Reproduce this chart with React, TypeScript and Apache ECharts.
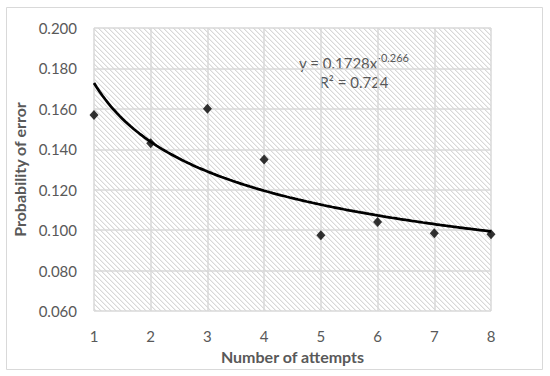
import React, { useEffect, useRef } from "react";
import * as echarts from "echarts";

const attempts = [1, 2, 3, 4, 5, 6, 7, 8];
const errorProb = [0.157, 0.143, 0.16, 0.135, 0.0975, 0.104, 0.0985, 0.098];
const trendCoef = 0.1728;
const trendExp = -0.266;
const rSquared = 0.724;
const xTitle = "Number of attempts";
const yTitle = "Probability of error";

const FONT = "Lato, 'Open Sans', sans-serif";
const TXT = "#595959";
const GRIDC = "#d9d9d9";

function makeHatch(): string {
  const n = 5;
  const c = document.createElement("canvas");
  c.width = n;
  c.height = n;
  const ctx = c.getContext("2d")!;
  ctx.fillStyle = "#ffffff";
  ctx.fillRect(0, 0, n, n);
  for (let i = 0; i < n; i++) {
    ctx.fillStyle = "#d8d8d8";
    ctx.fillRect(i, i, 1, 1);
    ctx.fillStyle = "#efefef";
    ctx.fillRect((i + 1) % n, i, 1, 1);
  }
  return c.toDataURL();
}

export default function App() {
  const ref = useRef<HTMLDivElement>(null);
  useEffect(() => {
    if (!ref.current) return;
    const chart = echarts.init(ref.current, null, { renderer: "svg" });
    const xMin = attempts[0];
    const xMax = attempts[attempts.length - 1];
    const trend: number[][] = [];
    for (let i = 0; i <= 140; i++) {
      const x = xMin + ((xMax - xMin) * i) / 140;
      trend.push([x, trendCoef * Math.pow(x, trendExp)]);
    }
    const hatch = makeHatch();
    chart.setOption({
      animation: false,
      backgroundColor: "#ffffff",
      grid: {
        left: 94,
        right: 59,
        top: 28,
        bottom: 65,
        show: true,
        borderWidth: 0,
        backgroundColor: { image: hatch, repeat: "repeat", imageWidth: 5, imageHeight: 5 },
        outerBoundsMode: "none",
      },
      xAxis: {
        type: "value",
        min: 1,
        max: 8,
        interval: 1,
        name: xTitle,
        nameLocation: "middle",
        nameGap: 37,
        nameTextStyle: { color: TXT, fontFamily: FONT, fontSize: 16, fontWeight: "bold" },
        axisLine: { show: false },
        axisTick: { show: false },
        axisLabel: { color: TXT, fontFamily: FONT, fontSize: 15, margin: 17 },
        splitLine: { show: true, lineStyle: { color: GRIDC, width: 1.5 } },
      },
      yAxis: {
        type: "value",
        min: 0.06,
        max: 0.2,
        interval: 0.02,
        name: yTitle,
        nameLocation: "middle",
        nameGap: 63,
        nameTextStyle: { color: TXT, fontFamily: FONT, fontSize: 16, fontWeight: "bold" },
        axisLine: { show: false },
        axisTick: { show: false },
        axisLabel: {
          color: TXT,
          fontFamily: FONT,
          fontSize: 15,
          margin: 17,
          formatter: (v: number) => v.toFixed(3),
        },
        splitLine: { show: true, lineStyle: { color: GRIDC, width: 1.5 } },
      },
      series: [
        {
          type: "scatter",
          data: attempts.map((x, i) => [x, errorProb[i]]),
          symbol: "diamond",
          symbolSize: [9, 10],
          itemStyle: { color: "#000000" },
          z: 3,
        },
        {
          type: "line",
          data: trend,
          showSymbol: false,
          symbol: "none",
          lineStyle: { color: "#000000", width: 2.75 },
          z: 4,
        },
      ],
      graphic: [
        {
          type: "rect",
          shape: { x: 6.5, y: 7.5, width: 536, height: 362 },
          style: { fill: "none", stroke: GRIDC, lineWidth: 1 },
          silent: true,
        },
        {
          type: "text",
          x: 299,
          y: 63,
          style: {
            text: `y = ${trendCoef}x`,
            font: `15px ${FONT}`,
            fill: TXT,
            align: "left",
            verticalAlign: "middle",
          },
        },
        {
          type: "text",
          x: 409,
          y: 57,
          style: {
            text: `${trendExp}`,
            font: `11px ${FONT}`,
            fill: TXT,
            align: "right",
            verticalAlign: "middle",
          },
        },
        {
          type: "text",
          x: 354,
          y: 82,
          style: {
            text: `R² = ${rSquared}`,
            font: `15px ${FONT}`,
            fill: TXT,
            align: "center",
            verticalAlign: "middle",
          },
        },
      ],
    });
    return () => chart.dispose();
  }, []);
  return (
    <div
      ref={ref}
      style={{ position: "fixed", left: 0, top: 0, width: 550, height: 376 }}
    />
  );
}
